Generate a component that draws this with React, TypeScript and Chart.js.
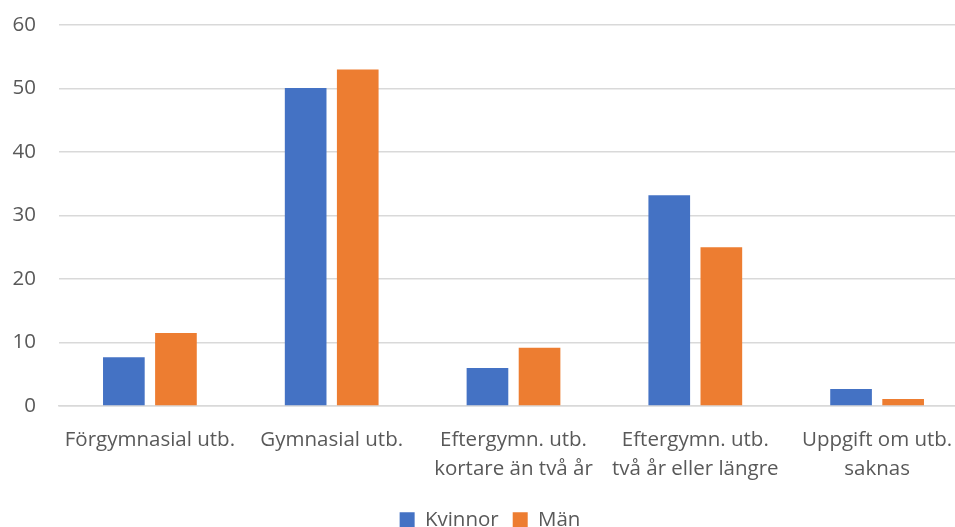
import React, { useEffect, useRef } from "react";
import { Chart, registerables } from "chart.js";

Chart.register(...registerables);

const categories: (string | string[])[] = [
  "Förgymnasial utb.",
  "Gymnasial utb.",
  ["Eftergymn. utb.", "kortare än två år"],
  ["Eftergymn. utb.", "två år eller längre"],
  ["Uppgift om utb.", "saknas"],
];
const kvinnor = [7.7, 50.1, 6.0, 33.2, 2.7];
const man = [11.5, 53.0, 9.2, 25.0, 1.1];
const seriesNames = ["Kvinnor", "Män"];
const yTicks = { min: 0, max: 60, step: 10 };

export default function App() {
  const ref = useRef<HTMLCanvasElement>(null);
  useEffect(() => {
    document.body.style.margin = "0";
    document.body.style.overflow = "hidden";
    const font = "'Open Sans', sans-serif";
    const chart = new Chart(ref.current!, {
      type: "bar",
      data: {
        labels: categories,
        datasets: [
          {
            label: seriesNames[0],
            data: kvinnor,
            backgroundColor: "#4472C4",
            categoryPercentage: 0.573,
            barPercentage: 0.8,
          },
          {
            label: seriesNames[1],
            data: man,
            backgroundColor: "#ED7D31",
            categoryPercentage: 0.573,
            barPercentage: 0.8,
          },
        ],
      },
      options: {
        animation: false,
        responsive: false,
        maintainAspectRatio: false,
        layout: { padding: { left: 12, right: 0, top: 25, bottom: 0 } },
        plugins: {
          tooltip: { enabled: false },
          legend: {
            position: "bottom",
            labels: {
              boxWidth: 15,
              boxHeight: 15,
              padding: 14,
              color: "#595959",
              font: { family: font, size: 20.5 },
            },
          },
        },
        scales: {
          x: {
            grid: { display: false },
            border: { display: true, color: "#d9d9d9", width: 1.5 },
            ticks: {
              color: "#595959",
              font: { family: font, size: 20.5, lineHeight: 1.4 },
              maxRotation: 0,
              autoSkip: false,
              padding: 12,
            },
          },
          y: {
            min: yTicks.min,
            max: yTicks.max,
            border: { display: false },
            grid: { color: "#d9d9d9", lineWidth: 1.5, drawTicks: false },
            afterFit: (s: any) => {
              s.width = 47;
              s.paddingTop = 0;
              s.paddingBottom = 0;
            },
            ticks: {
              stepSize: yTicks.step,
              color: "#595959",
              font: { family: font, size: 20.5 },
              padding: 23,
            },
          },
        },
      },
    });
    return () => chart.destroy();
  }, []);
  return (
    <div style={{ width: 968, height: 540, overflow: "hidden" }}>
      <canvas ref={ref} width={968} height={540} />
    </div>
  );
}
